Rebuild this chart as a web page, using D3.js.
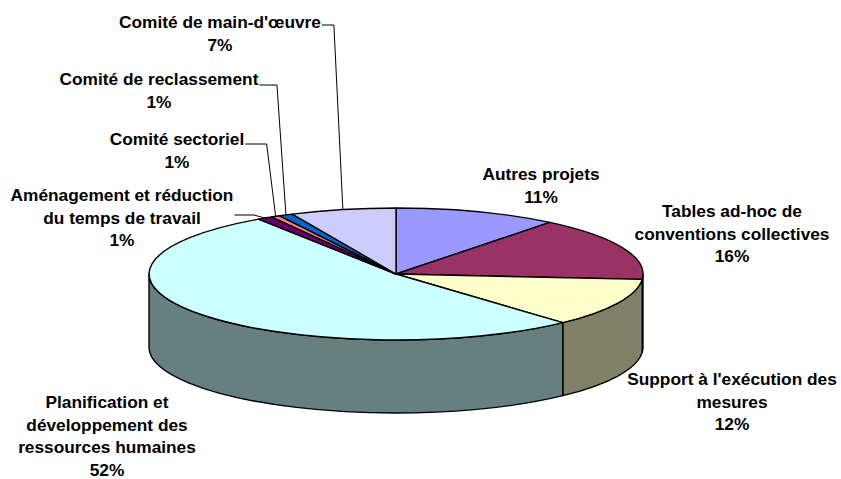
<!DOCTYPE html>
<html>
<head>
<meta charset="utf-8">
<script src="https://cdn.jsdelivr.net/npm/d3@7"></script>
<style>
  html, body { margin: 0; padding: 0; background: #ffffff; }
  svg { display: block; }
  text { font-family: "Liberation Sans", Arial, sans-serif; font-weight: bold; fill: #000; }
</style>
</head>
<body>
<svg id="chart" width="841" height="479"></svg>
<script>
// ---- data ----
const categories = [
  "Autres projets",
  "Tables ad-hoc de conventions collectives",
  "Support à l'exécution des mesures",
  "Planification et développement des ressources humaines",
  "Aménagement et réduction du temps de travail",
  "Comité sectoriel",
  "Comité de reclassement",
  "Comité de main-d'œuvre"
];
const labelLines = [
  ["Autres projets"],
  ["Tables ad-hoc de", "conventions collectives"],
  ["Support à l'exécution des", "mesures"],
  ["Planification et", "développement des", "ressources humaines"],
  ["Aménagement et réduction", "du temps de travail"],
  ["Comité sectoriel"],
  ["Comité de reclassement"],
  ["Comité de main-d'œuvre"]
];
const values = [10.7, 15.6, 11.9, 52.4, 1.0, 0.6, 0.9, 6.9];
const colors = ["#9999FF", "#993366", "#FFFFCC", "#CCFFFF", "#660066", "#FF8080", "#0066CC", "#CCCCFF"];

// ---- layout (not data) ----
const geo = { cx: 396, cy: 274, rx: 247, ry: 66, depth: 73 };
const labelLayout = [
  { x: 541, y: 180 },
  { x: 732, y: 217 },
  { x: 732, y: 385 },
  { x: 107, y: 408 },
  { x: 122, y: 201, leaderY: 215, elbow: 11 },
  { x: 177, y: 145, leaderY: 144, elbow: 9 },
  { x: 159, y: 85, leaderY: 85, elbow: 9 },
  { x: 220, y: 28, leaderY: 25, elbow: 9 }
];
const fontSize = 17.3;
const lineH = 22.7;

const svg = d3.select("#chart");
const total = d3.sum(values);
const pct = d3.format(".0%");

const pie = d3.pie().sort(null).value(d => d).startAngle(0).endAngle(2 * Math.PI);
const arcs = pie(values).map((a, i) => ({ ...a, i }));

const pt = (a, dy = 0) => [geo.cx + geo.rx * Math.sin(a), geo.cy - geo.ry * Math.cos(a) + dy];
const f = p => p[0].toFixed(2) + "," + p[1].toFixed(2);

function darken(c) {
  const r = d3.rgb(c);
  return d3.rgb(r.r * 0.5, r.g * 0.5, r.b * 0.5).formatHex();
}

// side walls (front half only)
const front0 = Math.PI / 2, front1 = 3 * Math.PI / 2;
const sides = svg.append("g");
arcs.forEach(a => {
  const s = Math.max(a.startAngle, front0), e = Math.min(a.endAngle, front1);
  if (e <= s) return;
  const large = (e - s) > Math.PI ? 1 : 0;
  const d = "M" + f(pt(s)) +
    " A" + geo.rx + "," + geo.ry + " 0 " + large + " 1 " + f(pt(e)) +
    " L" + f(pt(e, geo.depth)) +
    " A" + geo.rx + "," + geo.ry + " 0 " + large + " 0 " + f(pt(s, geo.depth)) + " Z";
  sides.append("path")
    .attr("d", d)
    .attr("fill", darken(colors[a.i]))
    .attr("stroke", "#000")
    .attr("stroke-width", 1.4)
    .attr("stroke-linejoin", "round");
});

// top faces
const tops = svg.append("g");
arcs.forEach(a => {
  const large = (a.endAngle - a.startAngle) > Math.PI ? 1 : 0;
  const d = "M" + geo.cx + "," + geo.cy +
    " L" + f(pt(a.startAngle)) +
    " A" + geo.rx + "," + geo.ry + " 0 " + large + " 1 " + f(pt(a.endAngle)) + " Z";
  tops.append("path")
    .attr("d", d)
    .attr("fill", colors[a.i])
    .attr("stroke", "#000")
    .attr("stroke-width", 1.4)
    .attr("stroke-linejoin", "round");
});

// labels
const labels = svg.append("g");
arcs.forEach(a => {
  const L = labelLayout[a.i];
  const lines = labelLines[a.i].concat([pct(a.data / total)]);
  const t = labels.append("text")
    .attr("text-anchor", "middle")
    .attr("font-size", fontSize);
  lines.forEach((ln, k) => {
    t.append("tspan").attr("x", L.x).attr("y", L.y + k * lineH).text(ln);
  });
  if (L.leaderY !== undefined) {
    const firstLine = t.select("tspan").node();
    const right = L.x + firstLine.getComputedTextLength() / 2 + 1;
    const mid = (a.startAngle + a.endAngle) / 2;
    const target = pt(mid);
    labels.append("polyline")
      .attr("points", [[right, L.leaderY], [target[0] - L.elbow, L.leaderY], target].map(f).join(" "))
      .attr("fill", "none")
      .attr("stroke", "#000")
      .attr("stroke-width", 1);
  }
});
</script>
</body>
</html>
